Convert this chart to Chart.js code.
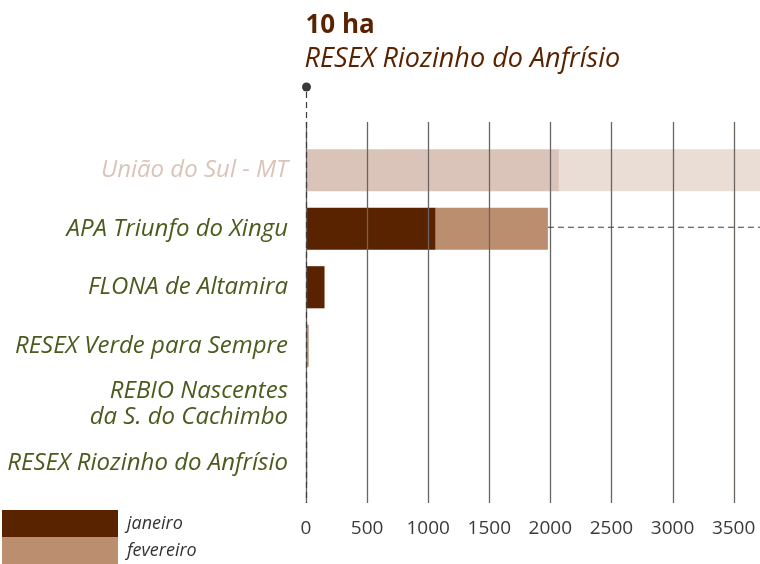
<!DOCTYPE html>
<html>
<head>
<meta charset="utf-8">
<script src="https://cdn.jsdelivr.net/npm/chart.js@4.4.1/dist/chart.umd.min.js"></script>
<style>
  html, body { margin: 0; padding: 0; background: #fff; }
  #wrap { position: relative; width: 760px; height: 564px; }
</style>
</head>
<body>
<div id="wrap"><canvas id="barChart"></canvas></div>
<script>
// data (hectares)
const categories = [
    "União do Sul - MT",
    "APA Triunfo do Xingu",
    "FLONA de Altamira",
    "RESEX Verde para Sempre",
    ["REBIO Nascentes", "da S. do Cachimbo"],
    "RESEX Riozinho do Anfrísio"
];
const janeiro = [2070, 1060, 150, 4, 3, 2];
const fevereiro = [2100, 920, 5, 18, 8, 8];
const xTicks = [0, 500, 1000, 1500, 2000, 2500, 3000, 3500];
const highlightValue = "10 ha";
const highlightName = "RESEX Riozinho do Anfrísio";

const DARK = "#5a2300";
const LIGHT = "#bc8e70";
const DARK_FADED = "#dac4b9";
const LIGHT_FADED = "#eaddd5";
const GREEN = "#4b5b1e";
const FONT = "'Open Sans', sans-serif";

// grid drawn over the bars, plus the annotation marks
const overlay = {
    id: "overlay",
    afterDatasetsDraw(chart) {
        const ctx = chart.ctx;
        const x = chart.scales.x;
        const area = chart.chartArea;
        const top = area.top - 19, bottom = area.bottom + 11;
        ctx.save();
        ctx.strokeStyle = "#6a6561";
        ctx.lineWidth = 1.3;
        xTicks.forEach(v => {
            const px = Math.round(x.getPixelForValue(v)) + 0.5;
            ctx.beginPath();
            ctx.moveTo(px, top);
            ctx.lineTo(px, bottom);
            ctx.stroke();
        });

        // dashed line from APA bar end to the right edge
        const apa = chart.getDatasetMeta(1).data[1];
        ctx.strokeStyle = "#3c3c3c";
        ctx.lineWidth = 1.2;
        ctx.setLineDash([6, 4]);
        ctx.beginPath();
        ctx.moveTo(apa.x, apa.y - 1.5);
        ctx.lineTo(area.right, apa.y - 1.5);
        ctx.stroke();

        // dashed marker at zero with dot
        const x0 = Math.round(x.getPixelForValue(0)) + 0.5;
        ctx.beginPath();
        ctx.moveTo(x0, 92);
        ctx.lineTo(x0, bottom);
        ctx.stroke();
        ctx.setLineDash([]);
        ctx.fillStyle = "#3c3a38";
        ctx.beginPath();
        ctx.arc(x0, 87, 4.5, 0, Math.PI * 2);
        ctx.fill();

        // heading
        ctx.fillStyle = DARK;
        ctx.textAlign = "left";
        ctx.textBaseline = "alphabetic";
        ctx.font = "bold 26px " + FONT;
        ctx.fillText(highlightValue, x0 - 1, 33);
        ctx.font = "italic 27px " + FONT;
        ctx.fillText(highlightName, x0 - 2, 67);

        // legend
        ctx.fillStyle = DARK;
        ctx.fillRect(2, 510, 116, 27);
        ctx.fillStyle = LIGHT;
        ctx.fillRect(2, 537, 116, 27);
        ctx.fillStyle = "#333";
        ctx.font = "italic 18px " + FONT;
        ctx.textBaseline = "middle";
        ctx.fillText("janeiro", 127, 524);
        ctx.fillText("fevereiro", 127, 551);
        ctx.restore();
    }
};

new Chart(document.getElementById("barChart"), {
    type: "bar",
    data: {
        labels: categories,
        datasets: [
            {
                label: "janeiro",
                data: janeiro,
                backgroundColor: janeiro.map((v, i) => i === 0 ? DARK_FADED : DARK)
            },
            {
                label: "fevereiro",
                data: fevereiro,
                backgroundColor: fevereiro.map((v, i) => i === 0 ? LIGHT_FADED : LIGHT)
            }
        ]
    },
    options: {
        indexAxis: "y",
        responsive: true,
        maintainAspectRatio: false,
        animation: false,
        layout: { padding: { top: 141, right: 0, left: 0, bottom: 0 } },
        datasets: { bar: { categoryPercentage: 0.72, barPercentage: 1 } },
        plugins: { legend: { display: false }, tooltip: { enabled: false } },
        scales: {
            x: {
                stacked: true,
                min: 0,
                max: 3716,
                afterBuildTicks: s => { s.ticks = xTicks.map(v => ({ value: v })); },
                afterFit: s => { s.height = 72; s.paddingRight = 0; s.paddingLeft = 0; },
                grid: { display: false },
                border: { display: false },
                ticks: {
                    padding: 17,
                    color: "#3a3a3a",
                    font: { family: FONT, size: 19 },
                    callback: v => String(v)
                }
            },
            y: {
                stacked: true,
                afterFit: s => { s.width = 306; },
                grid: { display: false },
                border: { display: false },
                ticks: {
                    padding: 10,
                    color: c => c.index === 0 ? DARK_FADED : GREEN,
                    font: { family: FONT, size: 24, style: "italic", lineHeight: 1.1 }
                }
            }
        }
    },
    plugins: [overlay]
});
</script>
</body>
</html>
